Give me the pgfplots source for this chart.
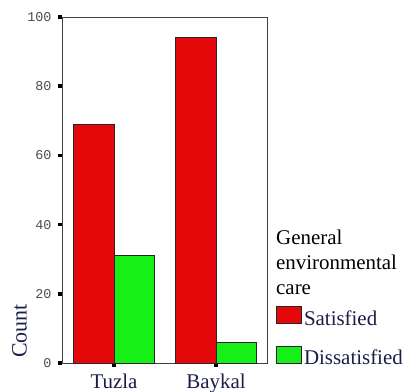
\documentclass[border=0pt]{standalone}
\usepackage{pgfplots}
\pgfplotsset{compat=1.18}
\usepackage{fontspec}
\setmainfont{Liberation Serif}
\newfontfamily\tickfont{Liberation Mono}
\definecolor{barred}{RGB}{228,8,10}
\definecolor{bargreen}{RGB}{22,240,22}
\definecolor{navy}{RGB}{25,30,70}
\pgfplotsset{boxlegend/.style={legend image code/.code={\draw[##1] (0bp,-5bp) rectangle (25bp,12bp);}}}
\begin{document}
\begin{tikzpicture}
\path[use as bounding box] (-62bp,-29bp) rectangle (346bp,363bp);
\begin{axis}[
  at={(0,0)}, anchor=south west,
  scale only axis, width=205bp, height=346bp,
  xmin=-0.51, xmax=1.5, ymin=0, ymax=100,
  ybar=0pt, bar width=0.4,
  xtick={0,1}, xticklabels={Tuzla,Baykal},
  ytick={0,20,...,100},
  xtick pos=bottom, ytick pos=left,
  tick align=outside, major tick length=3.5bp,
  tick style={line width=3.5bp, black},
  axis line style={black!75, line width=0.8bp},
  /pgf/number format/assume math mode=true,
  yticklabel style={font=\tickfont\fontsize{13.5}{14}\selectfont, text=black!70, xshift=-3.5bp},
  xticklabel style={font=\fontsize{21}{24}\selectfont, text=navy, yshift=-4bp},
  legend style={at={(1.044,-0.016)}, anchor=south west, draw=none, fill=none,
    inner sep=0pt, row sep=17bp, font=\fontsize{21}{24}\selectfont, text=navy,
    /tikz/every even column/.append style={column sep=1bp}},
  legend cell align=left,
]
\addplot[fill=barred, draw=black!85, line width=0.8bp, boxlegend]
  coordinates {(0,69) (1,94)};
\addplot[fill=bargreen, draw=black!85, line width=0.8bp, boxlegend]
  coordinates {(0,31) (1,6)};
\legend{Satisfied,Dissatisfied}
\end{axis}
\node[rotate=90, anchor=south west, inner sep=0pt, font=\fontsize{22}{24}\selectfont, text=navy] at (-35bp,5bp) {Count};
\node[anchor=base west, inner sep=0pt, font=\fontsize{21}{24}\selectfont] at (214bp,118bp) {General};
\node[anchor=base west, inner sep=0pt, font=\fontsize{21}{24}\selectfont] at (214bp,93bp) {environmental};
\node[anchor=base west, inner sep=0pt, font=\fontsize{21}{24}\selectfont] at (214bp,68bp) {care};
\end{tikzpicture}
\end{document}
